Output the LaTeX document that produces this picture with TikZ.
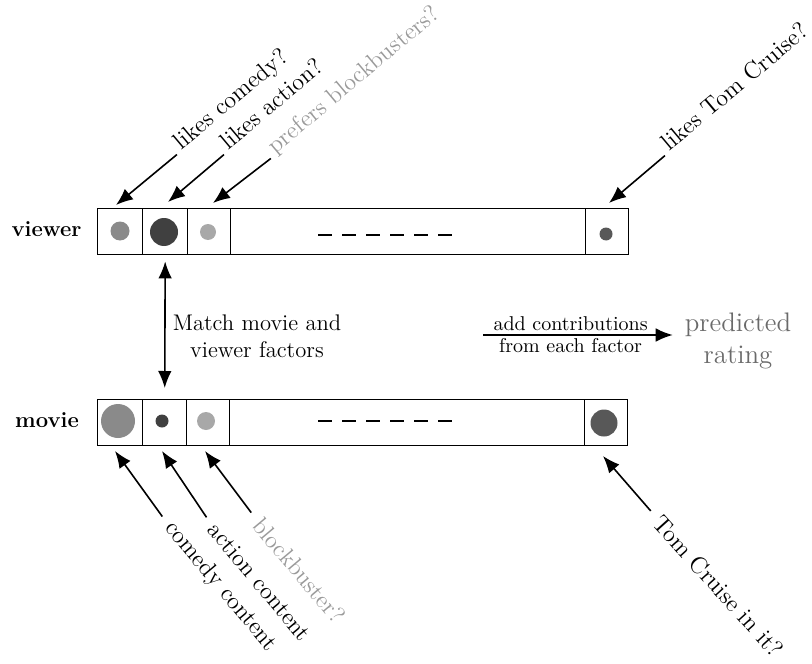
\documentclass[tikz,border=0pt]{standalone}
\usetikzlibrary{arrows.meta}
\definecolor{dotA}{HTML}{8A8A8A}
\definecolor{dotB}{HTML}{404040}
\definecolor{dotC}{HTML}{A8A8A8}
\definecolor{dotD}{HTML}{585858}
\definecolor{lightlab}{HTML}{9A9A9A}
\definecolor{predcol}{HTML}{6A6A6A}
\begin{document}
\begin{tikzpicture}[x=0.5pt,y=-0.5pt,
  cell/.style={draw, line width=0.7pt, minimum height=23pt, inner sep=0pt, anchor=north west},
  dot/.style={circle, fill=#1, inner sep=0pt},
  lab/.style={font=\fontsize{12}{14}\selectfont, inner sep=1pt},
  rowlab/.style={font=\fontsize{11}{13}\selectfont\bfseries, anchor=base},
  ptr/.style={-{Latex[length=8.5pt,width=6.8pt]}, line width=0.8pt},
  dblptr/.style={{Latex[length=8.5pt,width=6.8pt]}-{Latex[length=8.5pt,width=6.8pt]}, line width=0.8pt},
  dashrow/.style={line width=1pt, dash pattern=on 7pt off 5pt}
]
\useasboundingbox (0,0) rectangle (812,663);

% viewer bar
\node[cell, minimum width=22.5pt] (v1) at (97,208) {};
\node[cell, minimum width=22.5pt] (v2) at (142,208) {};
\node[cell, minimum width=21.5pt] (v3) at (187,208) {};
\node[cell, minimum width=177.5pt] (vm) at (230,208) {};
\node[cell, minimum width=21.5pt] (vl) at (585,208) {};
\node[dot=dotA, minimum size=9.5pt] (vd1) at (120,231) {};
\node[dot=dotB, minimum size=14pt] (vd2) at (164,232) {};
\node[dot=dotC, minimum size=8pt] (vd3) at (208,232) {};
\node[dot=dotD, minimum size=6.5pt] (vdl) at (606,234) {};
\draw[dashrow] (318,235) -- (455,235);
\node[rowlab] (viewer) at (46.5,236) {viewer};

% movie bar
\node[cell, minimum width=22.5pt] (m1) at (97,399) {};
\node[cell, minimum width=22pt] (m2) at (142,399) {};
\node[cell, minimum width=21.5pt] (m3) at (186,399) {};
\node[cell, minimum width=177.5pt] (mm) at (229,399) {};
\node[cell, minimum width=21.5pt] (ml) at (584,399) {};
\node[dot=dotA, minimum size=17pt] (md1) at (118,421) {};
\node[dot=dotB, minimum size=6.5pt] (md2) at (162,421) {};
\node[dot=dotC, minimum size=9pt] (md3) at (206,421) {};
\node[dot=dotD, minimum size=13.5pt] (mdl) at (604,423) {};
\draw[dashrow] (318,421) -- (455,421);
\node[rowlab] (movie) at (47,427) {movie};

% match arrow
\draw[dblptr, shorten <=3pt, shorten >=5.5pt] (v2.south) -- (m2.north);
\node[align=center, font=\fontsize{11.3}{13.5}\selectfont] (match) at (257,336) {Match movie and\\viewer factors};

% top labels
\node[lab, rotate=40, anchor=base west] (lcom) at (180,152) {likes comedy?};
\node[lab, rotate=40, anchor=base west] (lact) at (227,152) {likes action?};
\node[lab, rotate=40, anchor=base west, text=lightlab] (lblk) at (274,156) {prefers blockbusters?};
\node[lab, rotate=40, anchor=base west] (ltom) at (668,153) {likes Tom Cruise?};
\coordinate (tcom) at (116,205);
\coordinate (tact) at (168,202);
\coordinate (tblk) at (213,203);
\coordinate (ttom) at (609,203);
\draw[ptr, shorten <=2pt] (lcom.base west) -- (tcom);
\draw[ptr, shorten <=2pt] (lact.base west) -- (tact);
\draw[ptr, shorten <=2pt] (lblk.base west) -- (tblk);
\draw[ptr, shorten <=2pt] (ltom.base west) -- (ttom);

% bottom labels
\node[lab, rotate=-50, anchor=west] (bcom) at (167,523) {comedy content};
\node[lab, rotate=-50, anchor=west] (bact) at (211,524) {action content};
\node[lab, rotate=-50, anchor=west, text=lightlab] (bblk) at (256,519) {blockbuster?};
\node[lab, rotate=-48, anchor=west] (btom) at (656,517) {Tom Cruise in it?};
\coordinate (hcom) at (115,451);
\coordinate (hact) at (162,451);
\coordinate (hblk) at (205,451);
\coordinate (htom) at (603,456);
\draw[ptr, shorten <=4pt] (bcom.west) -- (hcom);
\draw[ptr, shorten <=4pt] (bact.west) -- (hact);
\draw[ptr, shorten <=4pt] (bblk.west) -- (hblk);
\draw[ptr, shorten <=4pt] (btom.west) -- (htom);

% prediction
\node[align=center, text=predcol, font=\fontsize{13.4}{16}\selectfont] (pred) at (738,341) {predicted\\rating};
\coordinate (acs) at (483,335);
\draw[ptr, shorten >=2.5pt] (acs) -- node[pos=0.45, above, font=\fontsize{10}{12}\selectfont, inner sep=1.5pt] (addl) {add contributions}
  node[pos=0.45, below, font=\fontsize{10}{12}\selectfont, inner sep=1.5pt] (froml) {from each factor} (acs -| pred.west);
\end{tikzpicture}
\end{document}
